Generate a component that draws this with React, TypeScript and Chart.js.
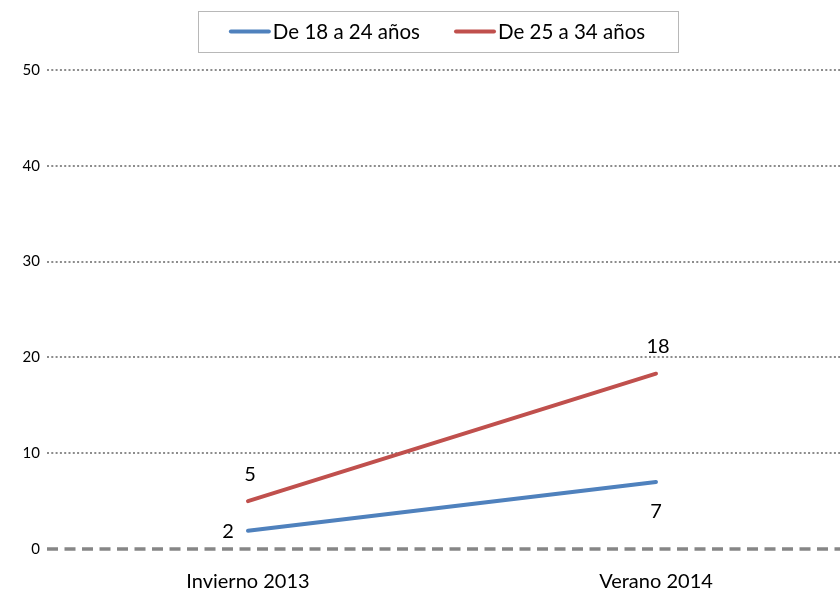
import React, { useEffect, useRef } from "react";
import { Chart, registerables } from "chart.js";

Chart.register(...registerables);

const categories = ["Invierno 2013", "Verano 2014"];
const seriesNames = ["De 18 a 24 años", "De 25 a 34 años"];
const serie1824 = [1.9, 7.0];
const serie2534 = [5.0, 18.3];
const seriesColors = ["#4F81BD", "#C0504D"];
const labelPlacement = [
  ["left", "below"],
  ["above", "above"],
];
const yTicks = [0, 10, 20, 30, 40, 50];

const FONT = "Lato, 'Liberation Sans', sans-serif";

const zeroLinePlugin = {
  id: "zeroLine",
  beforeDatasetsDraw(chart: any) {
    const { ctx, chartArea, scales } = chart;
    const y = scales.y.getPixelForValue(0);
    ctx.save();
    ctx.strokeStyle = "#868686";
    ctx.lineWidth = 3.5;
    ctx.setLineDash([11, 6.5]);
    ctx.beginPath();
    ctx.moveTo(chartArea.left, y);
    ctx.lineTo(chartArea.right, y);
    ctx.stroke();
    ctx.restore();
  },
};

const valueLabelPlugin = {
  id: "valueLabels",
  afterDatasetsDraw(chart: any) {
    const { ctx } = chart;
    ctx.save();
    ctx.font = `20px ${FONT}`;
    ctx.fillStyle = "#000";
    ctx.textAlign = "center";
    ctx.textBaseline = "middle";
    chart.data.datasets.forEach((ds: any, di: number) => {
      const meta = chart.getDatasetMeta(di);
      meta.data.forEach((pt: any, i: number) => {
        const v = ds.data[i].y;
        const place = labelPlacement[di][i];
        let dx = 0;
        let dy = 0;
        if (place === "above") { dx = 2; dy = -27; }
        if (place === "below") { dy = 30; }
        if (place === "left") { dx = -20; dy = 1; }
        ctx.fillText(String(Math.round(v)), pt.x + dx, pt.y + dy);
      });
    });
    ctx.restore();
  },
};

const legendPlugin = {
  id: "boxLegend",
  afterDraw(chart: any) {
    const { ctx } = chart;
    ctx.save();
    ctx.font = `20.5px ${FONT}`;
    const lineLen = 38;
    const gap = 4;
    const spacing = 36;
    const padX = 33;
    const widths = seriesNames.map((n) => lineLen + gap + ctx.measureText(n).width);
    const inner = widths.reduce((a, b) => a + b, 0) + spacing * (widths.length - 1);
    const total = inner + padX * 2;
    const cx = 438;
    const top = 11;
    const h = 41;
    const left = cx - total / 2;
    ctx.fillStyle = "#fff";
    ctx.fillRect(left, top, total, h);
    ctx.strokeStyle = "#b8b8b8";
    ctx.lineWidth = 1;
    ctx.strokeRect(Math.round(left) + 0.5, top + 0.5, Math.round(total), h);
    let x = left + padX;
    const y = top + h / 2;
    seriesNames.forEach((n, i) => {
      ctx.strokeStyle = seriesColors[i];
      ctx.lineWidth = 4;
      ctx.lineCap = "round";
      ctx.beginPath();
      ctx.moveTo(x, y);
      ctx.lineTo(x + lineLen, y);
      ctx.stroke();
      ctx.fillStyle = "#000";
      ctx.textAlign = "left";
      ctx.textBaseline = "middle";
      ctx.fillText(n, x + lineLen + gap, y + 1);
      x += widths[i] + spacing;
    });
    ctx.restore();
  },
};

export default function App() {
  const ref = useRef<HTMLCanvasElement | null>(null);

  useEffect(() => {
    document.body.style.margin = "0";
    const canvas = ref.current;
    if (!canvas) return;
    const allSeries = [serie1824, serie2534];
    const chart = new Chart(canvas, {
      type: "line",
      data: {
        datasets: allSeries.map((s, si) => ({
          label: seriesNames[si],
          data: s.map((v, i) => ({ x: i, y: v })),
          borderColor: seriesColors[si],
          backgroundColor: seriesColors[si],
          borderWidth: 4,
          borderCapStyle: "round",
          pointRadius: 0,
          tension: 0,
        })),
      },
      options: {
        responsive: false,
        animation: false,
        layout: { padding: { top: 70, right: 0, left: 0, bottom: 0 } },
        plugins: {
          legend: { display: false },
          tooltip: { enabled: false },
        },
        scales: {
          x: {
            type: "linear",
            min: -0.4926,
            max: 1.451,
            afterBuildTicks: (scale: any) => {
              scale.ticks = categories.map((_, i) => ({ value: i }));
            },
            afterFit: (scale: any) => {
              scale.height = 44;
            },
            ticks: {
              callback: (v: any) => categories[v] ?? "",
              font: { family: FONT, size: 20 },
              color: "#000",
              padding: 21,
              maxRotation: 0,
            },
            grid: { display: false, drawTicks: false },
            border: { display: false },
          },
          y: {
            min: 0,
            max: 50,
            afterBuildTicks: (scale: any) => {
              scale.ticks = yTicks.map((v) => ({ value: v }));
            },
            afterFit: (scale: any) => {
              scale.width = 47;
            },
            ticks: {
              font: { family: FONT, size: 15 },
              color: "#000",
              padding: 7,
            },
            grid: {
              drawTicks: false,
              color: (c: any) => (c.tick && c.tick.value === 0 ? "rgba(0,0,0,0)" : "#8c8c8c"),
              lineWidth: 2,
            },
            border: { display: false, dash: [2, 2.3] },
          },
        },
      },
      plugins: [zeroLinePlugin, valueLabelPlugin, legendPlugin],
    } as any);
    return () => chart.destroy();
  }, []);

  return (
    <div style={{ width: 840, height: 593, background: "#fff" }}>
      <canvas ref={ref} width={840} height={593} style={{ display: "block" }} />
    </div>
  );
}
